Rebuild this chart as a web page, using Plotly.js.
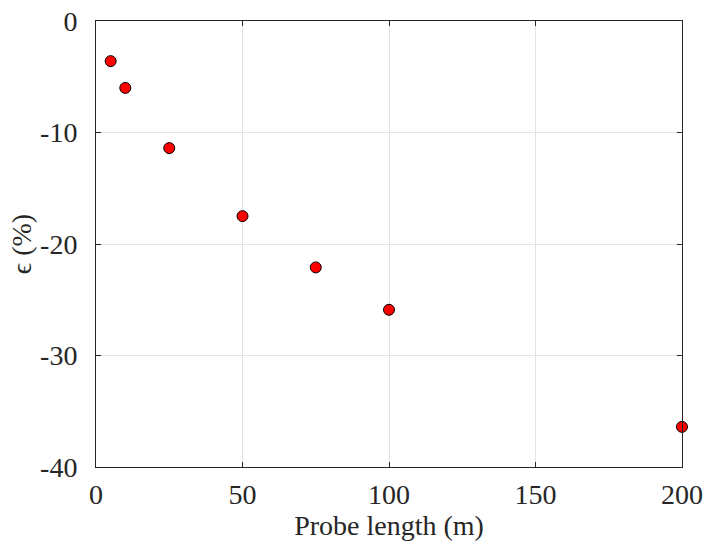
<!DOCTYPE html>
<html>
<head>
<meta charset="utf-8">
<script src="https://cdn.plot.ly/plotly-3.0.1.min.js"></script>
<style>html,body{margin:0;padding:0;background:#fff;}#chart{width:705px;height:546px;}</style>
</head>
<body>
<div id="chart"></div>
<script>
const probeLength = [5, 10, 25, 50, 75, 100, 200];
const epsilon = [-3.6, -6.0, -11.4, -17.5, -22.1, -25.9, -36.4];
const xTicks = [0, 50, 100, 150, 200];
const yTicks = [0, -10, -20, -30, -40];

const font = {family: 'Liberation Serif', size: 28, color: '#262626'};

Plotly.newPlot('chart', [{
  x: probeLength, y: epsilon, mode: 'markers', type: 'scatter',
  cliponaxis: false,
  marker: {size: 11, color: '#ff0000', line: {color: '#000', width: 1}}
}], {
  width: 705, height: 546,
  margin: {l: 96, r: 23, t: 21, b: 79},
  paper_bgcolor: '#fff', plot_bgcolor: '#fff',
  font: font,
  showlegend: false,
  xaxis: {
    range: [0, 200], tickvals: xTicks, ticktext: xTicks.map(String),
    showgrid: true, gridcolor: '#e3e3e3', zeroline: false,
    showline: true, linecolor: '#262626', linewidth: 1, mirror: 'ticks',
    ticks: 'inside', ticklen: 5, tickcolor: '#262626',
    ticklabelstandoff: 2,
    tickfont: font,
    title: {text: 'Probe length (m)', font: font, standoff: 2}
  },
  yaxis: {
    range: [-40, 0], tickvals: yTicks, ticktext: yTicks.map(String),
    showgrid: true, gridcolor: '#e3e3e3', zeroline: false,
    showline: true, linecolor: '#262626', linewidth: 1, mirror: 'ticks',
    ticks: 'inside', ticklen: 5, tickcolor: '#262626',
    ticklabelstandoff: 12,
    tickfont: font,
    title: {text: 'ϵ (%)', font: font, standoff: 0}
  }
}, {displayModeBar: false, staticPlot: true});
</script>
</body>
</html>
